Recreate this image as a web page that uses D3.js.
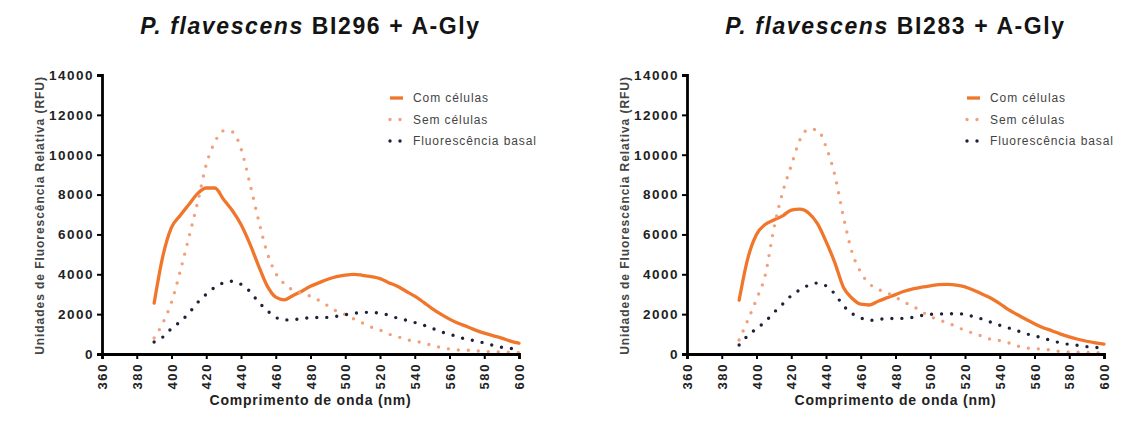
<!DOCTYPE html>
<html>
<head>
<meta charset="utf-8">
<script src="https://cdn.jsdelivr.net/npm/d3@7"></script>
<style>
  html, body { margin: 0; padding: 0; background: #ffffff; }
  svg { display: block; font-family: "Liberation Sans", Arial, sans-serif; }
</style>
</head>
<body>
<svg id="chart" width="1132" height="427"></svg>
<script>
// Emission spectra (RFU) recorded every 5 nm
const wavelengths = [390, 395, 400, 405, 410, 415, 420, 425, 430, 435, 440, 445, 450, 455, 460,
  465, 470, 475, 480, 485, 490, 495, 500, 505, 510, 515, 520, 525, 530, 535, 540, 545, 550,
  555, 560, 565, 570, 575, 580, 585, 590, 595, 600];

// BI296
const bi296Com = [2550, 4900, 6350, 6950, 7500, 8050, 8330, 8330, 7750, 7200, 6500, 5550, 4450,
  3430, 2850, 2720, 2940, 3150, 3400, 3580, 3750, 3880, 3960, 4000, 3950, 3880, 3780, 3580,
  3400, 3150, 2900, 2600, 2280, 2000, 1750, 1540, 1380, 1200, 1050, 920, 800, 650, 540];
const bi296Sem = [800, 1550, 2600, 4150, 5850, 7600, 9500, 10650, 11200, 11150, 10300, 8600,
  6750, 5100, 4050, 3520, 3200, 3030, 2900, 2680, 2420, 2150, 1980, 1760, 1550, 1350, 1200,
  1000, 880, 720, 650, 550, 430, 330, 250, 200, 190, 160, 130, 110, 100, 90, 80];
const bi296Basal = [600, 850, 1280, 1620, 2050, 2580, 3000, 3350, 3570, 3650, 3500, 3150, 2620,
  2190, 1840, 1710, 1720, 1780, 1820, 1830, 1840, 1890, 1970, 2040, 2090, 2090, 2040, 1950,
  1800, 1700, 1580, 1450, 1290, 1120, 990, 870, 720, 670, 550, 440, 340, 280, 240];

// BI283
const bi283Com = [2700, 4800, 6000, 6500, 6720, 6930, 7220, 7270, 7080, 6550, 5650, 4600, 3350,
  2800, 2500, 2460, 2650, 2820, 2980, 3150, 3270, 3350, 3420, 3480, 3490, 3460, 3370, 3200,
  3000, 2800, 2530, 2230, 1980, 1740, 1520, 1320, 1170, 1000, 860, 740, 640, 560, 500];
const bi283Sem = [700, 1700, 2750, 3950, 6300, 8100, 9450, 10750, 11280, 11250, 10400, 9000,
  6900, 5100, 4100, 3520, 3250, 3080, 2850, 2600, 2400, 2130, 1880, 1720, 1550, 1380, 1180,
  1040, 890, 730, 670, 560, 410, 310, 270, 240, 190, 120, 100, 90, 80, 70, 60];
const bi283Basal = [450, 920, 1270, 1620, 2080, 2500, 2930, 3220, 3450, 3560, 3420, 3020, 2430,
  2030, 1810, 1690, 1730, 1780, 1780, 1790, 1840, 1930, 1990, 2010, 2017, 2020, 2000, 1870,
  1750, 1590, 1440, 1310, 1170, 1020, 910, 790, 670, 560, 480, 430, 370, 330, 300];

const seriesNames = ["Com células", "Sem células", "Fluorescência basal"];
const xTickValues = [360, 380, 400, 420, 440, 460, 480, 500, 520, 540, 560, 580, 600];
const yTickValues = [0, 2000, 4000, 6000, 8000, 10000, 12000, 14000];
const yAxisTitle = "Unidades de Fluorescência Relativa (RFU)";
const xAxisTitle = "Comprimento de onda (nm)";

const panels = [
  { strain: "BI296", left: 102, series: [bi296Com, bi296Sem, bi296Basal], legendX: 388 },
  { strain: "BI283", left: 687, series: [bi283Com, bi283Sem, bi283Basal], legendX: 965 }
];

const styles = [
  { color: "#f0762b", width: 3.3, dash: null },
  { color: "#f2a07c", width: 3.4, dash: "0,10" },
  { color: "#1f2138", width: 3.4, dash: "0,10" }
];

const svg = d3.select("#chart");
const plotTop = 75, plotW = 417, plotH = 279;

panels.forEach(p => {
  const g = svg.append("g").attr("transform", `translate(${p.left},${plotTop})`);
  const x = d3.scaleLinear().domain([360, 600]).range([0, plotW]);
  const y = d3.scaleLinear().domain([0, 14000]).range([plotH, 0]);

  // series
  p.series.forEach((vals, i) => {
    const st = styles[i];
    const line = d3.line()
      .x((d, k) => x(wavelengths[k]))
      .y(d => y(d))
      .curve(d3.curveMonotoneX);
    const path = g.append("path")
      .datum(vals)
      .attr("fill", "none")
      .attr("stroke", st.color)
      .attr("stroke-width", st.width)
      .attr("stroke-linecap", "round")
      .attr("stroke-linejoin", "round")
      .attr("d", line);
    if (st.dash) path.attr("stroke-dasharray", st.dash);
  });

  // axes
  const xAxis = g.append("g")
    .attr("transform", `translate(0,${plotH})`)
    .call(d3.axisBottom(x).tickValues(xTickValues).tickSize(5).tickPadding(4).tickFormat(d3.format("d")));
  xAxis.select(".domain").attr("stroke", "#000").attr("stroke-width", 2.8);
  xAxis.selectAll(".tick line").attr("stroke", "#000").attr("stroke-width", 2);
  xAxis.selectAll(".tick text")
    .attr("transform", "rotate(-90)")
    .attr("text-anchor", "end")
    .attr("x", -9)
    .attr("y", 0)
    .attr("dy", "0.36em")
    .attr("fill", "#222")
    .style("font-size", "13px")
    .style("font-weight", "bold")
    .style("letter-spacing", "1.6px");

  const yAxis = g.append("g")
    .call(d3.axisLeft(y).tickValues(yTickValues).tickSize(5).tickPadding(3).tickFormat(d3.format("d")));
  yAxis.select(".domain").attr("stroke", "#000").attr("stroke-width", 2.8);
  yAxis.selectAll(".tick line").attr("stroke", "#000").attr("stroke-width", 2);
  yAxis.selectAll(".tick text")
    .attr("fill", "#222")
    .style("font-size", "13.5px")
    .style("font-weight", "bold")
    .style("letter-spacing", "1.5px");

  // titles
  const title = svg.append("text")
    .attr("x", p.left + plotW / 2)
    .attr("y", 34)
    .attr("text-anchor", "middle")
    .attr("fill", "#141414")
    .style("font-size", "23px")
    .style("font-weight", "bold")
    .style("letter-spacing", "1.6px");
  title.append("tspan").style("font-style", "italic").text("P. flavescens");
  title.append("tspan").text(` ${p.strain} + A-Gly`);

  svg.append("text")
    .attr("transform", `translate(${p.left - 62},${plotTop + plotH / 2 + 1}) rotate(-90)`)
    .attr("text-anchor", "middle")
    .attr("dy", "0.35em")
    .attr("fill", "#444")
    .style("font-size", "12px")
    .style("font-weight", "bold")
    .style("letter-spacing", "0.95px")
    .text(yAxisTitle);

  svg.append("text")
    .attr("x", p.left + plotW / 2)
    .attr("y", 405)
    .attr("text-anchor", "middle")
    .attr("fill", "#222")
    .style("font-size", "14px")
    .style("font-weight", "bold")
    .style("letter-spacing", "0.8px")
    .text(xAxisTitle);

  // legend
  const legend = svg.append("g").attr("transform", `translate(${p.legendX},98)`);
  seriesNames.forEach((name, i) => {
    const st = styles[i];
    const row = legend.append("g").attr("transform", `translate(0,${i * 21.5})`);
    const sample = row.append("line")
      .attr("x1", 2).attr("x2", st.dash ? 13 : 15)
      .attr("y1", 0).attr("y2", 0)
      .attr("stroke", st.color)
      .attr("stroke-width", st.width)
      .attr("stroke-linecap", st.dash ? "round" : "butt");
    if (st.dash) sample.attr("stroke-dasharray", st.dash);
    row.append("text")
      .attr("x", 25)
      .attr("y", 0)
      .attr("dy", "0.35em")
      .attr("fill", "#444")
      .style("font-size", "12px")
      .style("letter-spacing", "0.9px")
      .text(name);
  });
});
</script>
</body>
</html>
